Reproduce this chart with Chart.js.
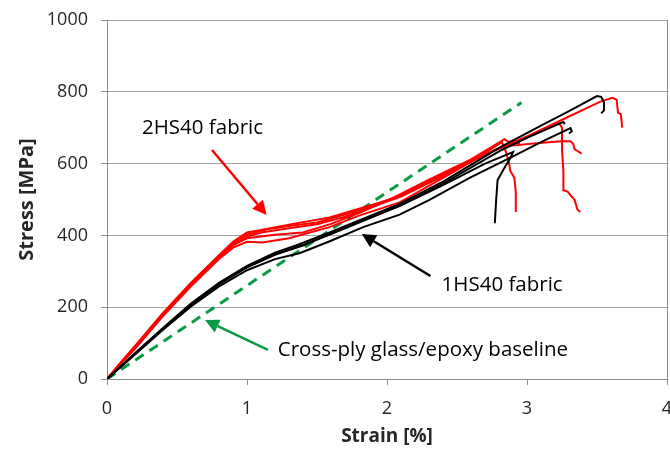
<!DOCTYPE html>
<html>
<head>
<meta charset="utf-8">
<script src="https://cdn.jsdelivr.net/npm/chart.js@4"></script>
<style>
  html, body { margin: 0; padding: 0; background: #fff; }
  #wrap { width: 670px; height: 450px; }
</style>
</head>
<body>
<div id="wrap"><canvas id="myChart" width="670" height="450"></canvas></div>
<script>
// tick values
const strainTicks = [0, 1, 2, 3, 4];
const stressTicks = [0, 200, 400, 600, 800, 1000];

// 2HS40 fabric specimens (strain %, stress MPa)
const red1Strain = [0, 0.1, 0.2, 0.4, 0.6, 0.8, 0.9, 1.0, 1.1, 1.3, 1.5, 1.7, 1.9, 2.1, 2.4, 2.7, 3.0, 3.24, 3.52, 3.61, 3.64, 3.65, 3.67, 3.68];
const red1Stress = [0, 44, 86, 178, 262, 338, 372, 396, 408, 420, 431, 452, 480, 508, 565, 625, 676, 720, 772, 783, 778, 742, 738, 700];
const red2Strain = [0, 0.1, 0.2, 0.4, 0.6, 0.8, 0.9, 1.0, 1.15, 1.3, 1.5, 1.7, 1.9, 2.1, 2.4, 2.7, 3.0, 3.23, 3.25, 3.25, 3.26, 3.26, 3.29, 3.31, 3.34, 3.36, 3.38];
const red2Stress = [0, 46, 90, 182, 266, 342, 378, 402, 418, 426, 436, 458, 484, 512, 566, 626, 674, 712, 700, 640, 580, 526, 522, 512, 499, 472, 465];
const red3Strain = [0, 0.1, 0.2, 0.4, 0.6, 0.8, 0.9, 1.0, 1.11, 1.3, 1.59, 1.8, 2.09, 2.4, 2.6, 2.83, 3.07, 3.24, 3.31, 3.33, 3.34, 3.37, 3.39];
const red3Stress = [0, 47, 92, 184, 268, 345, 382, 408, 416, 430, 450, 474, 508, 570, 608, 648, 657, 662, 662, 655, 640, 633, 628];
const red4Strain = [0, 0.1, 0.2, 0.4, 0.6, 0.8, 0.9, 1.0, 1.11, 1.3, 1.59, 1.8, 2.09, 2.4, 2.6, 2.82, 2.85, 2.87, 2.88, 2.91, 2.92, 2.92];
const red4Stress = [0, 42, 84, 175, 258, 334, 366, 382, 380, 392, 423, 455, 492, 560, 605, 660, 632, 605, 580, 560, 520, 465];
const red5Strain = [0, 0.1, 0.2, 0.4, 0.6, 0.8, 0.9, 1.0, 1.2, 1.4, 1.6, 1.8, 2.0, 2.3, 2.6, 2.84, 2.86, 2.9, 2.95];
const red5Stress = [0, 45, 88, 180, 264, 340, 374, 392, 402, 408, 432, 462, 496, 555, 612, 668, 662, 660, 656];

// 1HS40 fabric specimens
const blk1Strain = [0, 0.2, 0.4, 0.6, 0.8, 1.0, 1.2, 1.35, 1.6, 1.8, 2.09, 2.4, 2.81, 3.1, 3.3, 3.5, 3.53, 3.55, 3.55, 3.53];
const blk1Stress = [0, 72, 142, 210, 268, 315, 352, 372, 410, 442, 488, 550, 646, 706, 746, 788, 786, 770, 748, 740];
const blk2Strain = [0, 0.2, 0.4, 0.6, 0.8, 1.0, 1.2, 1.35, 1.6, 1.8, 2.09, 2.4, 2.81, 3.0, 3.26, 3.27];
const blk2Stress = [0, 70, 140, 207, 264, 311, 346, 366, 404, 436, 482, 544, 636, 672, 716, 710];
const blk3Strain = [0, 0.2, 0.4, 0.6, 0.8, 1.0, 1.2, 1.38, 1.6, 1.83, 2.09, 2.3, 2.59, 2.9, 3.1, 3.31, 3.32, 3.3];
const blk3Stress = [0, 68, 137, 202, 258, 303, 334, 351, 385, 423, 458, 498, 560, 620, 660, 699, 690, 684];
const blk4Strain = [0, 0.2, 0.4, 0.6, 0.8, 1.0, 1.2, 1.4, 1.6, 1.8, 2.1, 2.4, 2.7, 2.9, 2.88, 2.83, 2.79, 2.78, 2.77];
const blk4Stress = [0, 71, 141, 208, 266, 312, 348, 372, 405, 438, 484, 540, 600, 632, 615, 582, 554, 500, 434];

// cross-ply glass/epoxy baseline
const baseStrain = [0, 2.96];
const baseStress = [0, 770];

// annotations: text and arrows in data units
const notes = [
  { text: "2HS40 fabric", x: 0.25, y: 700, color: "#ff0000", from: [0.75, 638], to: [1.14, 457] },
  { text: "1HS40 fabric", x: 2.39, y: 262, color: "#000000", from: [2.31, 287], to: [1.82, 404] },
  { text: "Cross-ply glass/epoxy baseline", x: 1.22, y: 80, color: "#0a9a45", from: [1.15, 81], to: [0.70, 164] }
];

const pts = (xs, ys) => xs.map((x, i) => ({ x: x, y: ys[i] }));

const redCurves = [[red1Strain, red1Stress], [red2Strain, red2Stress], [red3Strain, red3Stress], [red4Strain, red4Stress], [red5Strain, red5Stress]];
const blackCurves = [[blk1Strain, blk1Stress], [blk2Strain, blk2Stress], [blk3Strain, blk3Stress], [blk4Strain, blk4Stress]];

const datasets = [];
blackCurves.forEach(c => datasets.push({ data: pts(c[0], c[1]), borderColor: "#000000", borderWidth: 2 }));
redCurves.forEach(c => datasets.push({ data: pts(c[0], c[1]), borderColor: "#ff0000", borderWidth: 2 }));
datasets.push({ data: pts(baseStrain, baseStress), borderColor: "#0a9a45", borderWidth: 3, borderDash: [10, 7] });

const notePlugin = {
  id: "notes",
  afterDatasetsDraw(chart) {
    const ctx = chart.ctx;
    const sx = chart.scales.x, sy = chart.scales.y;
    ctx.save();
    notes.forEach(n => {
      ctx.font = "20.5px 'Open Sans'";
      ctx.fillStyle = "#000";
      ctx.textBaseline = "middle";
      ctx.textAlign = "left";
      ctx.fillText(n.text, sx.getPixelForValue(n.x), sy.getPixelForValue(n.y));

      const x0 = sx.getPixelForValue(n.from[0]), y0 = sy.getPixelForValue(n.from[1]);
      const x1 = sx.getPixelForValue(n.to[0]), y1 = sy.getPixelForValue(n.to[1]);
      const ang = Math.atan2(y1 - y0, x1 - x0);
      const head = 14, half = 7;
      const bx = x1 - head * Math.cos(ang), by = y1 - head * Math.sin(ang);
      ctx.strokeStyle = n.color;
      ctx.fillStyle = n.color;
      ctx.lineWidth = 2.5;
      ctx.beginPath();
      ctx.moveTo(x0, y0);
      ctx.lineTo(bx, by);
      ctx.stroke();
      ctx.beginPath();
      ctx.moveTo(x1, y1);
      ctx.lineTo(bx + half * Math.sin(ang), by - half * Math.cos(ang));
      ctx.lineTo(bx - half * Math.sin(ang), by + half * Math.cos(ang));
      ctx.closePath();
      ctx.fill();
    });
    ctx.restore();
  }
};

new Chart(document.getElementById("myChart"), {
  type: "scatter",
  data: { datasets: datasets },
  plugins: [notePlugin],
  options: {
    responsive: false,
    animation: false,
    layout: { padding: { left: 0, right: 3, top: 20, bottom: 0 } },
    elements: { point: { radius: 0 }, line: { tension: 0, fill: false } },
    datasets: { scatter: { showLine: true } },
    plugins: { legend: { display: false }, tooltip: { enabled: false } },
    scales: {
      x: {
        min: 0, max: 4,
        afterBuildTicks: s => { s.ticks = strainTicks.map(v => ({ value: v })); },
        afterFit: s => { s.height = 71; s.paddingLeft = 0; s.paddingRight = 0; },
        grid: {
          color: c => (c.tick && c.tick.value === 4 ? "#8c8c8c" : "rgba(0,0,0,0)"),
          tickColor: "#8c8c8c",
          tickLength: 6
        },
        border: { color: "#8c8c8c" },
        ticks: { color: "#262626", font: { family: "'Open Sans'", size: 18 }, padding: 13, maxRotation: 0, callback: v => String(v) },
        title: { display: true, text: "Strain [%]", color: "#262626", font: { family: "'Open Sans'", size: 19, weight: "bold" }, padding: { top: 0, bottom: 2 } }
      },
      y: {
        min: 0, max: 1000,
        afterBuildTicks: s => { s.ticks = stressTicks.map(v => ({ value: v })); },
        afterFit: s => { s.width = 107; s.paddingTop = 0; s.paddingBottom = 0; },
        grid: { color: "#a6a6a6", tickColor: "#8c8c8c", tickLength: 6 },
        border: { color: "#8c8c8c" },
        ticks: { color: "#262626", font: { family: "'Open Sans'", size: 18 }, padding: 13, callback: v => String(v) },
        title: { display: true, text: "Stress [MPa]", color: "#262626", font: { family: "'Open Sans'", size: 20, weight: "bold" }, padding: { top: 15, bottom: 0 } }
      }
    }
  }
});
</script>
</body>
</html>
